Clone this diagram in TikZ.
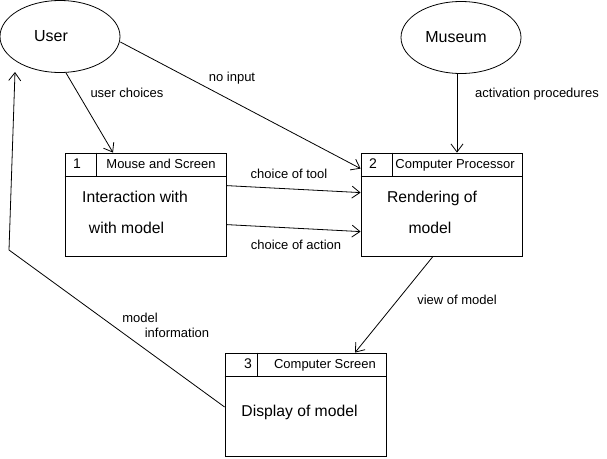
\documentclass[tikz,border=0pt]{standalone}
\usepackage{fontspec}
\setmainfont{Liberation Sans}
\usetikzlibrary{arrows.meta, shapes.geometric}

\begin{document}
\begin{tikzpicture}[x=1pt, y=-1pt,
  actor/.style={draw, ellipse, line width=0.8pt, minimum width=120pt, minimum height=72pt, inner sep=0pt},
  procbox/.style={draw, line width=0.8pt, minimum width=161pt, minimum height=103pt, inner sep=0pt},
  ent/.style={font=\fontsize{16}{18}\selectfont, anchor=base, inner sep=0pt},
  body/.style={font=\fontsize{15.7}{18}\selectfont, anchor=base, inner sep=0pt},
  head/.style={font=\fontsize{13}{15}\selectfont, anchor=base, inner sep=0pt},
  num/.style={font=\fontsize{14}{16}\selectfont, anchor=base, inner sep=0pt},
  lbl/.style={font=\fontsize{13}{15}\selectfont, anchor=base, inner sep=0pt, align=left},
  ar/.style={-{Straight Barb[length=8pt, width=12pt]}, line width=0.8pt}]
\useasboundingbox (0,0) rectangle (607,458);
% outside entities
\node[actor] (user) at (60,36.5) {};
\node[ent] (usertxt) at (51,41) {User};
\node[actor] (museum) at (461,37.5) {};
\node[ent] (museumtxt) at (456,42) {Museum};
% processes
\node[procbox] (b1) at (145.5,204.5) {};
\node[procbox] (b2) at (441.5,204.5) {};
\node[procbox] (b3) at (305.5,404.5) {};
\foreach \b/\d in {b1/32,b2/32,b3/33}
  \draw[line width=0.8pt] (\b.north west) ++(0,24) -- ++(161,0) (\b.north west) ++(\d,0) -- ++(0,24);
\node[num] (n1) at (77,168) {1};
\node[head] (t1) at (161,168) {Mouse and Screen};
\node[body] (i1) at (135,202) {Interaction with};
\node[body] (i2) at (126.5,233) {with model};
\node[num] (n2) at (373,168) {2};
\node[head] (t2) at (455,168) {Computer Processor};
\node[body] (r1) at (432,202) {Rendering of};
\node[body] (r2) at (430,233) {model};
\node[num] (n3) at (248,368) {3};
\node[head] (t3) at (325,368) {Computer Screen};
\node[body] (d1) at (299.5,416) {Display of model};
% flows
\draw[ar] ([xshift=6pt]user.south) -- ([xshift=-32.5pt]b1.north);
\node[lbl] at (127,97) {user choices};
\draw[ar] ([yshift=-5.5pt]user.east) -- ([yshift=-16pt]b2.north west);
\node[lbl] at (232,81) {no input};
\draw[ar] ([xshift=-4pt]museum.south) -- ([xshift=-4pt]museum.south |- b2.north);
\node[lbl] at (537,97) {activation procedures};
\draw[ar] ([yshift=-33pt]b1.north east) -- ([yshift=-40pt]b2.north west);
\node[lbl] at (289,178) {choice of tool};
\draw[ar] ([yshift=-72pt]b1.north east) -- ([yshift=-79pt]b2.north west);
\node[lbl] at (296,249) {choice of action};
\draw[ar] ([xshift=-8.5pt]b2.south) -- ([xshift=49.5pt]b3.north);
\node[lbl] at (457,304) {view of model};
\coordinate (bend) at (9,250);
\coordinate (uin) at (15,72);
\draw[ar] ([yshift=-2.5pt]b3.west) -- (bend) -- (uin);
\node[lbl] at (140,322) {model};
\node[lbl] at (177,337) {information};
\end{tikzpicture}
\end{document}
